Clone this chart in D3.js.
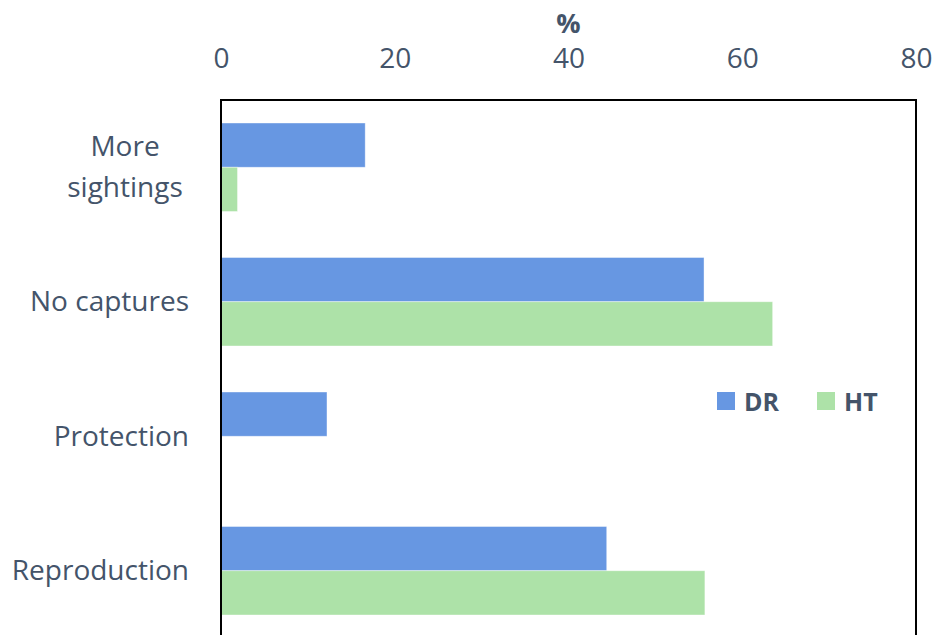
<!DOCTYPE html>
<html>
<head>
<meta charset="utf-8">
<script src="https://cdn.jsdelivr.net/npm/d3@7"></script>
<style>
  html, body { margin: 0; padding: 0; background: #fff; }
  svg text { font-family: "Open Sans", "Noto Sans", sans-serif; }
</style>
</head>
<body>
<svg id="chart" width="938" height="635"></svg>
<script>
// Share of respondents (%) by reason, for the two sites
const categories = ["More sightings", "No captures", "Protection", "Reproduction"];
const seriesNames = ["DR", "HT"];
const drValues = [16.6, 55.6, 12.2, 44.4];
const htValues = [1.9, 63.5, 0, 55.7];
const xTicks = [0, 20, 40, 60, 80];
const colors = { DR: "#6797e2", HT: "#ade2a8" };

const svg = d3.select("#chart");
const plot = { left: 221, right: 916, top: 100, bottom: 638 };
const textColor = "#44546a";

const x = d3.scaleLinear().domain([0, 80]).range([plot.left, plot.right]);
const y = d3.scaleBand().domain(categories).range([plot.top, plot.bottom])
  .paddingInner(0.342).paddingOuter(0.171);
const sub = d3.scaleBand().domain(seriesNames).range([0, y.bandwidth()]);

const rows = categories.map((c, i) => ({ cat: c, DR: drValues[i], HT: htValues[i] }));

// Bars
const groups = svg.append("g").selectAll("g").data(rows).join("g")
  .attr("transform", d => `translate(0,${y(d.cat)})`);
groups.selectAll("rect")
  .data(d => seriesNames.map(s => ({ s, v: d[s] })).filter(e => e.v > 0))
  .join("rect")
  .attr("x", x(0))
  .attr("y", e => sub(e.s))
  .attr("width", e => x(e.v) - x(0))
  .attr("height", sub.bandwidth())
  .attr("fill", e => colors[e.s])
  .attr("stroke", "rgba(255,255,255,0.5)")
  .attr("stroke-width", 0.8);

// Plot frame
svg.append("rect")
  .attr("x", plot.left).attr("y", plot.top)
  .attr("width", plot.right - plot.left).attr("height", plot.bottom - plot.top)
  .attr("fill", "none").attr("stroke", "#000").attr("stroke-width", 2);

// Top value axis
const xAxis = d3.axisTop(x).tickValues(xTicks).tickSize(0).tickPadding(0);
const gx = svg.append("g").attr("transform", "translate(0,68)").call(xAxis);
gx.select(".domain").remove();
gx.selectAll("text")
  .attr("y", 0).attr("dy", 0)
  .attr("fill", textColor).style("font-size", "28px");

svg.append("text")
  .attr("x", x(40)).attr("y", 33)
  .attr("text-anchor", "middle")
  .attr("fill", textColor).style("font-size", "27px").style("font-weight", "bold")
  .text("%");

// Category labels (long ones wrap onto two centred lines)
const yAxis = d3.axisLeft(y).tickSize(0).tickPadding(0);
const gy = svg.append("g").attr("transform", "translate(189,0)").call(yAxis);
gy.select(".domain").remove();
gy.selectAll("text")
  .attr("fill", textColor).style("font-size", "28px")
  .attr("x", 0).attr("dy", "0.34em")
  .each(function(d) {
    const t = d3.select(this);
    if (d === "More sightings") {
      const words = d.split(" ");
      t.text(null).attr("text-anchor", "middle").attr("x", -64).attr("dy", null);
      words.forEach((w, i) => {
        t.append("tspan").attr("x", -64)
          .attr("y", (i === 0 ? -20.5 : 20.5))
          .attr("dy", "0.34em").text(w);
      });
    }
  });

// Legend
const legendItems = [{ s: "DR", x: 717 }, { s: "HT", x: 817 }];
const lg = svg.append("g").selectAll("g").data(legendItems).join("g")
  .attr("transform", d => `translate(${d.x},392)`);
lg.append("rect").attr("width", 18).attr("height", 18).attr("fill", d => colors[d.s]);
lg.append("text").attr("x", 27).attr("y", 19)
  .attr("fill", textColor).style("font-size", "25px").style("font-weight", "bold")
  .text(d => d.s);
</script>
</body>
</html>
